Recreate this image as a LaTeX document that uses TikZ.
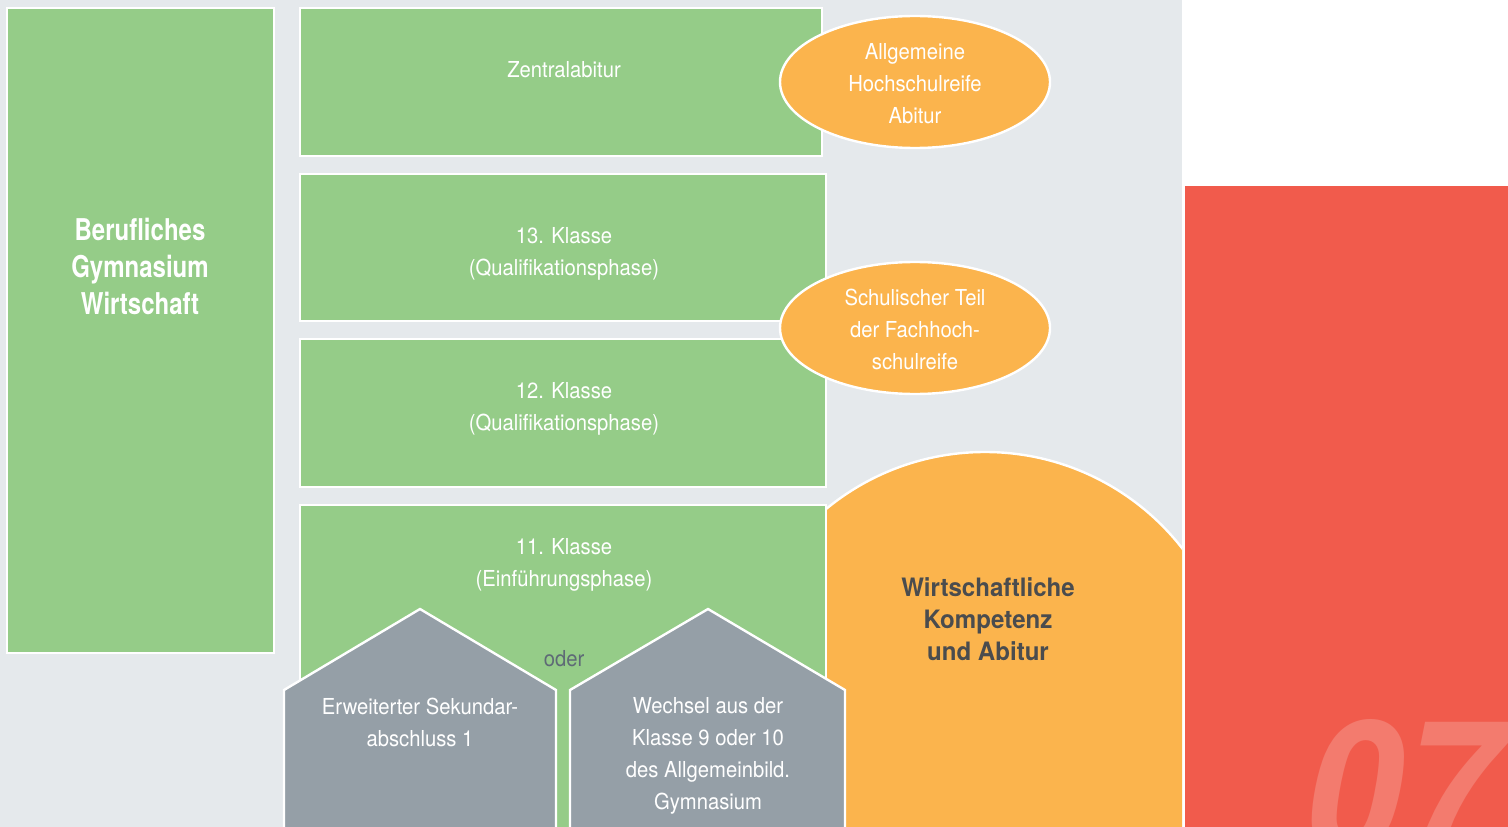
\documentclass[tikz,border=0pt]{standalone}
\usepackage{fontspec}
\setmainfont{TeX Gyre Heros}[FakeStretch=0.92]
\newfontfamily\titlefont{TeX Gyre Heros}[FakeStretch=0.80]
\newfontfamily\arcfont{TeX Gyre Heros}[FakeStretch=0.95]
\usepackage{tikz}
\usetikzlibrary{positioning}

\definecolor{bggray}{HTML}{E5E9EC}
\definecolor{kgreen}{HTML}{95CC88}
\definecolor{korange}{HTML}{FBB44D}
\definecolor{kgray}{HTML}{959FA7}
\definecolor{kred}{HTML}{F15B4C}
\definecolor{kredlight}{HTML}{F37B6E}
\definecolor{darktext}{HTML}{4A4C4E}
\definecolor{odertext}{HTML}{5E6A76}

\begin{document}
\begin{tikzpicture}[x=0.75pt,y=-0.75pt,line width=1.8pt,
    greenbox/.style={fill=kgreen,draw=white},
    oval/.style={fill=korange,draw=white},
    house/.style={fill=kgray,draw=white,line join=miter},
    lbl/.style={text=white,align=center,inner sep=0pt,font=\fontsize{16.5}{24}\selectfont}]
    \useasboundingbox (0,0) rectangle (1508,827);
    \fill[bggray] (0,0) rectangle (1182,827);

    % orange arc behind the classes
    \begin{scope}
        \clip (0,0) rectangle (1182,827);
        \draw[oval] (985,702) circle [radius=187.5pt];
    \end{scope}
    \node[inner sep=0pt,align=center,text=darktext,font=\arcfont\bfseries\fontsize{19}{24}\selectfont] (wka) at (988,619) {Wirtschaftliche\\Kompetenz\\und Abitur};

    % green boxes
    \draw[greenbox] (7,8) rectangle (274,653);
    \draw[greenbox] (300,8) rectangle (822,156);
    \draw[greenbox] (300,174) rectangle (826,321);
    \draw[greenbox] (300,339) rectangle (826,487);
    \draw[greenbox] (300,505) rectangle (826,845);
    \node[inner sep=0pt,align=center,text=white,font=\titlefont\bfseries\fontsize{22.5}{27.75}\selectfont] (bgw) at (140,266) {Berufliches\\Gymnasium\\Wirtschaft};
    \node[lbl] (zab) at (564,70) {Zentralabitur};
    \node[lbl] (q13) at (564,254) {13. Klasse\\(Qualifikationsphase)};
    \node[lbl] (q12) at (564,409) {12. Klasse\\(Qualifikationsphase)};
    \node[lbl] (e11) at (564,565) {11. Klasse\\(Einführungsphase)};

    % entry houses
    \draw[house] (284,845) -- (284,690) -- (420,609) -- (556,690) -- (556,845);
    \draw[house] (570,845) -- (570,690) -- (708,609) -- (845,690) -- (845,845);
    \node[lbl] (esa) at (420,722) {Erweiterter Sekundar-\\abschluss 1};
    \node[lbl] (wag) at (708,756) {Wechsel aus der\\Klasse 9 oder 10\\des Allgemeinbild.\\Gymnasium};
    \node[lbl,text=odertext] (oder) at (564,659) {oder};

    % degrees
    \draw[oval] (915,82) ellipse [x radius=101.25pt,y radius=49.5pt];
    \draw[oval] (915,328) ellipse [x radius=101.25pt,y radius=49.5pt];
    \node[lbl] (ahr) at (915,84) {Allgemeine\\Hochschulreife\\Abitur};
    \node[lbl] (fhr) at (915,329) {Schulischer Teil\\der Fachhoch-\\schulreife};

    % chapter tab
    \begin{scope}
        \clip (1185,186) rectangle (1508,827);
        \fill[kred] (1185,186) rectangle (1508,827);
        \node[anchor=base west,inner sep=0pt,text=kredlight,font=\bfseries\itshape\fontsize{142}{142}\selectfont] (num) at (1303,856) {07};
    \end{scope}
\end{tikzpicture}
\end{document}
